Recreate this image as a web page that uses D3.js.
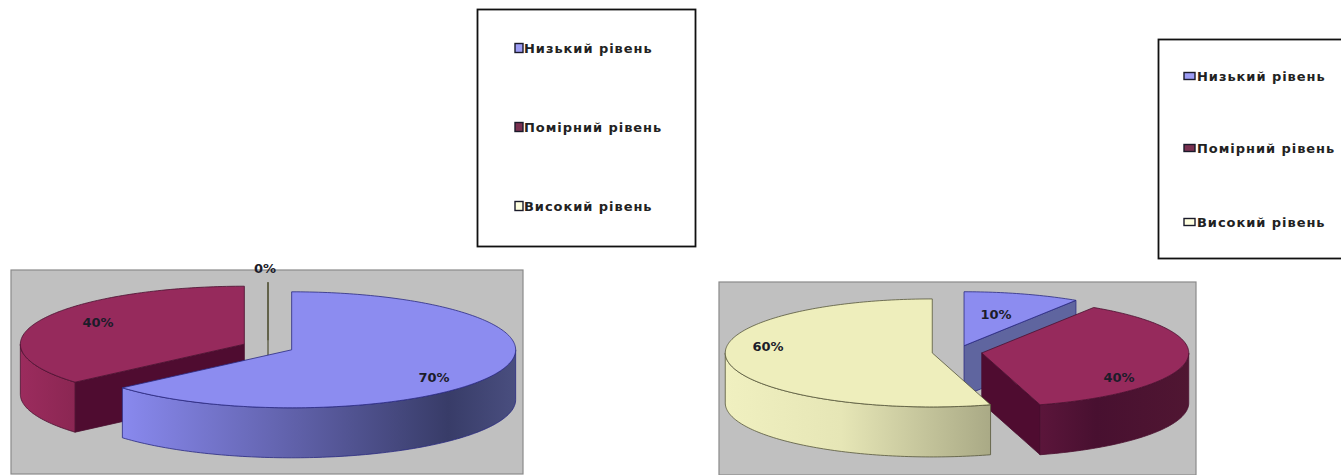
<!DOCTYPE html>
<html>
<head>
<meta charset="utf-8">
<script src="https://cdn.jsdelivr.net/npm/d3@7/dist/d3.min.js"></script>
<style>
  html, body { margin: 0; padding: 0; background: #fff; overflow: hidden; }
  svg { display: block; }
  text { font-family: "DejaVu Sans", sans-serif; font-weight: bold; }
</style>
</head>
<body>
<svg id="chart" width="1341" height="475"></svg>
<script>
// Series shared by both exploded pies
const levels = ["Низький рівень", "Помірний рівень", "Високий рівень"];
const valuesBefore = [70, 40, 0];
const valuesAfter = [10, 40, 60];

// Surface colours per level: top face, cut face, outline
const topColors = ["#8c8cf0", "#962a5c", "#eeeebc"];
const cutColors = ["#5f659f", "#4f0c30", "#b5b58e"];
const edgeColors = ["#2a2a80", "#4a1030", "#55553a"];
// Rim shading, with offsets measured across the full width of the pie
const rimStops = [
  [[0.2, "#8a8af0"], [0.56, "#5f60a8"], [0.86, "#383c68"], [1, "#4a4f80"]],
  [[0, "#9c2c5e"], [0.12, "#8a2652"], [0.55, "#701b46"], [0.8, "#481030"], [1, "#501632"]],
  [[0, "#f0f0c0"], [0.25, "#e6e6b6"], [0.57, "#aaaa86"]]
];
const legendKeyColors = ["#9c9cf4", "#7a3050", "#ffffe0"];

// Layout of each panel
const panels = [
  {
    id: "before", values: valuesBefore,
    frame: { x: 11, y: 270, w: 512, h: 204 },
    pie: { cx: 268, cy: 347, rx: 224, ry: 58, depth: 50, explode: 26 },
    labelAt: [[434, 377], [98, 322], [265, 268]],
    legend: { x: 477.5, y: 9.5, w: 218, h: 237, keyX: 515, keyW: 8, keyH: 9, textX: 524, rows: [48, 127, 206] }
  },
  {
    id: "after", values: valuesAfter,
    frame: { x: 719, y: 282, w: 477, h: 193 },
    pie: { cx: 957, cy: 352, rx: 207, ry: 54, depth: 50, explode: 25 },
    labelAt: [[996, 314], [1119, 377], [768, 346]],
    legend: { x: 1158.5, y: 39.5, w: 200, h: 219, keyX: 1184, keyW: 11, keyH: 7, textX: 1197, rows: [76, 148, 222] }
  }
];

const svg = d3.select("#chart");
const defs = svg.append("defs");
const pieLayout = d3.pie().sort(null).value(v => v);
const outline = d3.line();
const QUARTER = Math.PI / 2;

panels.forEach(panel => {
  const { frame, pie: geo, legend } = panel;
  const g = svg.append("g").attr("class", panel.id);

  g.append("rect")
    .attr("x", frame.x).attr("y", frame.y)
    .attr("width", frame.w).attr("height", frame.h)
    .attr("fill", "#c0c0c0").attr("stroke", "#8a8a8a").attr("stroke-width", 1.2);

  // Each slice is pushed out along its mid-angle; at() projects a rim angle onto the tilted ellipse
  const slices = pieLayout(panel.values).map((d, i) => {
    const mid = (d.startAngle + d.endAngle) / 2;
    const ox = geo.cx + geo.explode * Math.sin(mid);
    const oy = geo.cy - geo.explode * Math.cos(mid) * geo.ry / geo.rx;
    const at = a => [ox + geo.rx * Math.sin(a), oy - geo.ry * Math.cos(a)];
    return { ...d, i, mid, ox, oy, at };
  });

  const arcPoints = (a0, a1) => {
    const steps = Math.max(1, Math.ceil((a1 - a0) / 0.02));
    return d3.range(steps + 1).map(k => a0 + (a1 - a0) * k / steps);
  };
  const drop = p => [p[0], p[1] + geo.depth];

  // Paint from the back of the pie to the front
  slices.slice().sort((a, b) => d3.ascending(-Math.cos(a.mid), -Math.cos(b.mid))).forEach(s => {
    const sg = g.append("g");
    const stroke = edgeColors[s.i];
    const vertex = [s.ox, s.oy];

    // Cut faces that turn towards the viewer
    [[s.startAngle, Math.sin(s.startAngle) < 0], [s.endAngle, Math.sin(s.endAngle) > 0]]
      .filter(c => c[1])
      .forEach(([a]) => {
        const tip = s.at(a);
        sg.append("path")
          .attr("d", outline([vertex, tip, drop(tip), drop(vertex)]) + "Z")
          .attr("fill", cutColors[s.i]).attr("stroke", stroke).attr("stroke-width", 0.8);
      });

    // Outer rim on the front half of the ellipse
    const a0 = Math.max(s.startAngle, QUARTER);
    const a1 = Math.min(s.endAngle, 3 * QUARTER);
    if (a1 > a0) {
      const rim = arcPoints(a0, a1).map(s.at);
      const gradId = `rim-${panel.id}-${s.i}`;
      const grad = defs.append("linearGradient").attr("id", gradId)
        .attr("gradientUnits", "userSpaceOnUse")
        .attr("x1", geo.cx - geo.rx - geo.explode).attr("x2", geo.cx + geo.rx + geo.explode)
        .attr("y1", 0).attr("y2", 0);
      grad.selectAll("stop").data(rimStops[s.i]).join("stop")
        .attr("offset", d => d[0]).attr("stop-color", d => d[1]);
      sg.append("path")
        .attr("d", outline(rim.concat(rim.map(drop).reverse())) + "Z")
        .attr("fill", `url(#${gradId})`).attr("stroke", stroke).attr("stroke-width", 0.8);
    }

    // Top face
    const top = [vertex].concat(arcPoints(s.startAngle, s.endAngle).map(s.at));
    sg.append("path")
      .attr("d", outline(top) + "Z")
      .attr("fill", topColors[s.i]).attr("stroke", stroke).attr("stroke-width", 0.8);
  });

  // Percentage labels
  g.selectAll("text.pct").data(panel.values).join("text")
    .attr("class", "pct")
    .attr("x", (d, i) => panel.labelAt[i][0])
    .attr("y", (d, i) => panel.labelAt[i][1])
    .attr("text-anchor", "middle").attr("dominant-baseline", "central")
    .attr("font-size", 13).attr("fill", "#1c1c2a")
    .text(d => `${d}%`);

  // Legend box
  const lg = svg.append("g").attr("class", `legend-${panel.id}`);
  lg.append("rect")
    .attr("x", legend.x).attr("y", legend.y)
    .attr("width", legend.w).attr("height", legend.h)
    .attr("fill", "#fff").attr("stroke", "#111").attr("stroke-width", 1.8);
  const rows = lg.selectAll("g").data(levels).join("g");
  rows.append("rect")
    .attr("x", legend.keyX).attr("y", (d, i) => legend.rows[i] - legend.keyH / 2)
    .attr("width", legend.keyW).attr("height", legend.keyH)
    .attr("fill", (d, i) => legendKeyColors[i]).attr("stroke", "#1a1a2a").attr("stroke-width", 1.4);
  rows.append("text")
    .attr("x", legend.textX).attr("y", (d, i) => legend.rows[i])
    .attr("dominant-baseline", "central")
    .attr("font-size", 13).attr("letter-spacing", 0.95).attr("fill", "#222")
    .text(d => d);
});
</script>
</body>
</html>
